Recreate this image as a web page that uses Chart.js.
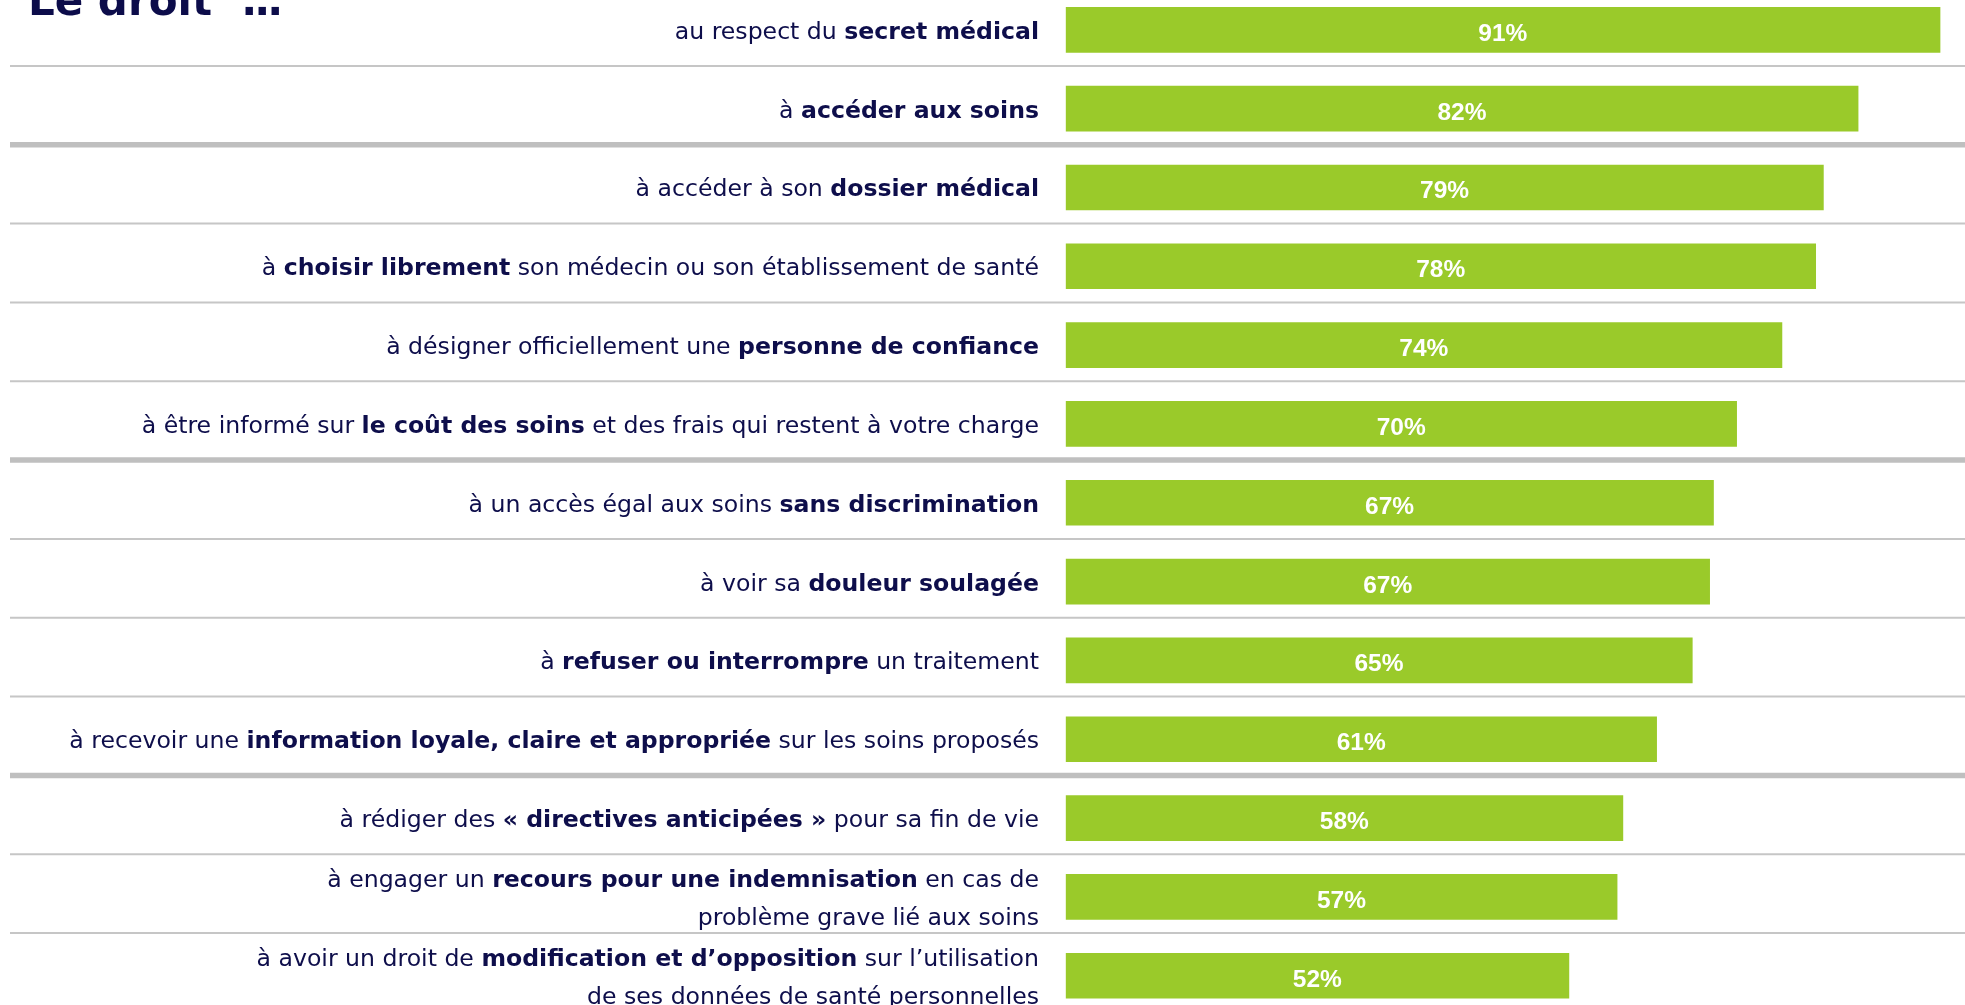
<!DOCTYPE html>
<html>
<head>
<meta charset="utf-8">
<script src="https://cdn.jsdelivr.net/npm/chart.js@4.4.1/dist/chart.umd.min.js"></script>
<style>
  html, body { margin: 0; padding: 0; background: #ffffff; overflow: hidden; width: 1965px; height: 1005px; }
  #wrap { position: absolute; left: 0; top: -12px; width: 1965px; height: 1040px; }
  #title { position: absolute; left: 28px; top: -20.5px; font-family: "DejaVu Sans", sans-serif; font-weight: bold; font-size: 42px; line-height: 42px; color: #0c0c4a; white-space: pre; z-index: 2; }
  #title .dots { letter-spacing: -3px; }
</style>
</head>
<body>
<div id="title">Le droit  <span class="dots">...</span></div>
<div id="wrap"><canvas id="c"></canvas></div>
<script>
// ---- data ----
const categories = [
  ["au respect du **secret médical**"],
  ["à **accéder aux soins**"],
  ["à accéder à son **dossier médical**"],
  ["à **choisir librement** son médecin ou son établissement de santé"],
  ["à désigner officiellement une **personne de confiance**"],
  ["à être informé sur **le coût des soins** et des frais qui restent à votre charge"],
  ["à un accès égal aux soins **sans discrimination**"],
  ["à voir sa **douleur soulagée**"],
  ["à **refuser ou interrompre** un traitement"],
  ["à recevoir une **information loyale, claire et appropriée** sur les soins proposés"],
  ["à rédiger des **«\u00a0directives anticipées\u00a0»** pour sa fin de vie"],
  ["à engager un **recours pour une indemnisation** en cas de", "problème grave lié aux soins"],
  ["à avoir un droit de **modification et d’opposition** sur l’utilisation", "de ses données de santé personnelles"]
];
const values = [90.7, 82.2, 78.6, 77.8, 74.3, 69.6, 67.2, 66.8, 65.0, 61.3, 57.8, 57.2, 52.2];
const valueLabels = ["91%", "82%", "79%", "78%", "74%", "70%", "67%", "67%", "65%", "61%", "58%", "57%", "52%"];
const thickAfter = [1, 5, 9];   // group separators after these rows

const plainLabels = categories.map(lines => lines.join(" ").replace(/\*\*/g, ""));

const NAVY = "#0e0e4b";
const LABEL_FONT = '"DejaVu Sans", sans-serif';
const LABEL_SIZE = 23.6;

function drawRich(ctx, line, xRight, yBase) {
  const parts = line.split("**");
  const segs = parts.map((t, i) => ({ t, bold: i % 2 === 1 }));
  let total = 0;
  segs.forEach(s => {
    ctx.font = (s.bold ? "bold " : "") + LABEL_SIZE + "px " + LABEL_FONT;
    s.w = ctx.measureText(s.t).width;
    total += s.w;
  });
  let x = xRight - total;
  segs.forEach(s => {
    ctx.font = (s.bold ? "bold " : "") + LABEL_SIZE + "px " + LABEL_FONT;
    ctx.fillText(s.t, x, yBase);
    x += s.w;
  });
}

const decorPlugin = {
  id: "decor",
  beforeDatasetsDraw(chart) {
    const ctx = chart.ctx, y = chart.scales.y;
    ctx.save();
    for (let i = 0; i < categories.length - 1; i++) {
      const mid = (y.getPixelForValue(i) + y.getPixelForValue(i + 1)) / 2 - 3.3;
      const thick = thickAfter.includes(i);
      ctx.beginPath();
      ctx.strokeStyle = thick ? "#bfbfbf" : "#c6c6c6";
      ctx.lineWidth = thick ? 5.5 : 2;
      ctx.moveTo(10, mid);
      ctx.lineTo(chart.width, mid);
      ctx.stroke();
    }
    ctx.restore();
  },
  afterDatasetsDraw(chart) {
    const ctx = chart.ctx, y = chart.scales.y, x = chart.scales.x;
    const meta = chart.getDatasetMeta(0);
    ctx.save();
    // category labels
    ctx.fillStyle = NAVY;
    ctx.textAlign = "left";
    ctx.textBaseline = "alphabetic";
    const xRight = x.left - 26.7;
    categories.forEach((lines, i) => {
      const cy = y.getPixelForValue(i);
      const lh = 38;
      const n = lines.length;
      lines.forEach((ln, k) => {
        const yb = cy + 9 + (k - (n - 1) / 2) * lh;
        drawRich(ctx, ln, xRight, yb);
      });
    });
    // value labels
    ctx.fillStyle = "#ffffff";
    ctx.textAlign = "center";
    ctx.font = 'bold 24.5px "Liberation Sans", Arial, sans-serif';
    meta.data.forEach((bar, i) => {
      const cx = (bar.base + bar.x) / 2;
      ctx.fillText(valueLabels[i], cx, bar.y + 11);
    });
    ctx.restore();
  }
};

new Chart(document.getElementById("c"), {
  type: "bar",
  data: {
    labels: plainLabels,
    datasets: [{
      data: values,
      backgroundColor: "#9aca2a",
      borderWidth: 0,
      barThickness: 45
    }]
  },
  options: {
    indexAxis: "y",
    responsive: true,
    maintainAspectRatio: false,
    devicePixelRatio: 1,
    animation: false,
    layout: { padding: { left: 1065.7, right: 0, top: 2.385, bottom: 12.825 } },
    scales: {
      x: { display: false, min: 0, max: 93.29, grid: { display: false } },
      y: { display: false, grid: { display: false } }
    },
    plugins: { legend: { display: false }, tooltip: { enabled: false }, title: { display: false } }
  },
  plugins: [decorPlugin]
});
</script>
</body>
</html>
